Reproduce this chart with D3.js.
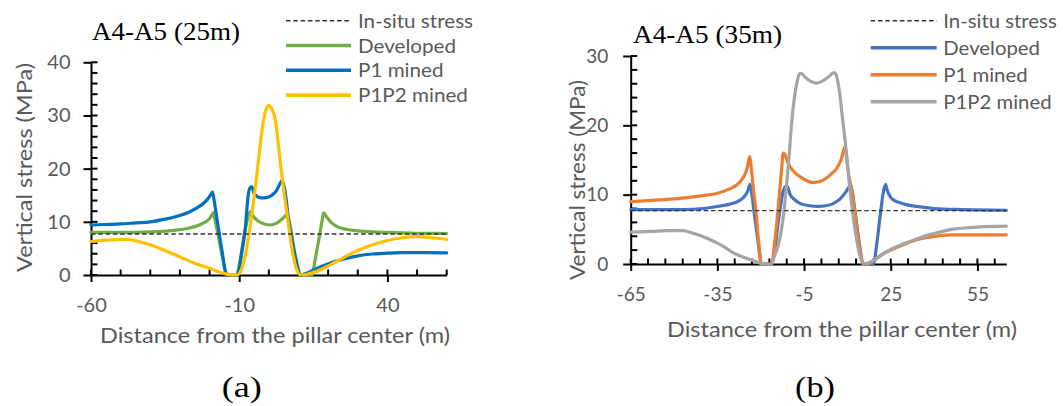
<!DOCTYPE html>
<html>
<head>
<meta charset="utf-8">
<script src="https://cdn.jsdelivr.net/npm/d3@7"></script>
<style>
  body { margin: 0; background: #fff; }
  svg { display: block; }
</style>
</head>
<body>
<svg id="fig" width="1063" height="406"></svg>
<script>
// ---------------- data ----------------
const legendNames = ["In-situ stress", "Developed", "P1 mined", "P1P2 mined"];
const inSituStress = 7.7;

// Panel (a): A4-A5, 25 m pillar
const titleA = "A4-A5 (25m)";
const xMajorA = [-60, -10, 40];
const yMajorA = [0, 10, 20, 30, 40];
const developedA = [
  [-60, 8.0], [-50, 8.0], [-40, 8.1], [-32, 8.4], [-28, 8.7], [-25, 9.1], [-22, 9.8], [-20, 10.6],
  [-19.2, 11.3], [-18.7, 11.8], [-18.2, 10.5], [-17, 7.2], [-15.6, 3.2], [-14.4, 0.4], [-14, 0],
  [-11, 0], [-10.4, 0.8], [-9.2, 4.5], [-7.8, 9.0], [-6.6, 11.6], [-6.2, 11.9], [-5.2, 11.0],
  [-3.5, 10.1], [-1.5, 9.6], [0.5, 9.4], [2.5, 9.7], [4.2, 10.4], [5.4, 11.0], [6.1, 11.4],
  [6.6, 10.8], [7.6, 8.0], [8.8, 4.0], [10, 1.0], [10.6, 0], [14.6, 0], [15.5, 2.5], [16.8, 6.5],
  [18, 10.3], [18.5, 11.7], [19.5, 10.9], [21, 9.9], [23, 9.1], [26, 8.6], [30, 8.3], [35, 8.1],
  [40, 8.0], [50, 7.85], [60, 7.8]
];
const p1MinedA = [
  [-60, 9.4], [-55, 9.5], [-50, 9.6], [-45, 9.8], [-40, 10.0], [-35, 10.5], [-30, 11.2], [-27, 11.8],
  [-24, 12.7], [-22, 13.5], [-20.5, 14.4], [-19.5, 15.2], [-19, 15.6], [-18.6, 14.5], [-18.1, 12.8],
  [-17.2, 9.5], [-16.4, 6.6], [-15.5, 3.5], [-14.7, 0.6], [-14.2, 0], [-10.8, 0], [-10.2, 0.5],
  [-9.2, 4.0], [-8, 8.5], [-6.9, 15.3], [-6.2, 16.5], [-5.7, 16.6], [-5.1, 15.5], [-4, 14.8],
  [-2.3, 14.5], [-0.5, 14.6], [1, 15.0], [2.5, 15.8], [3.6, 17.0], [4.4, 17.8], [5.2, 16.5],
  [6, 13.5], [6.6, 10.3], [7.8, 6.5], [8.9, 3.4], [9.8, 1.2], [10.6, 0], [13, 0.4], [16, 1.2],
  [19, 1.9], [22, 2.5], [26, 3.1], [30, 3.6], [35, 3.95], [40, 4.1], [45, 4.2], [50, 4.2], [60, 4.15]
];
const p1p2MinedA = [
  [-60, 6.3], [-55, 6.55], [-50, 6.7], [-47, 6.65], [-44, 6.3], [-40, 5.7], [-35, 4.6], [-30, 3.4],
  [-25, 2.2], [-20, 1.25], [-17, 0.6], [-14.5, 0.2], [-12.5, 0.03], [-10.5, 0.05], [-9.6, 0.6],
  [-8.6, 2.2], [-7.4, 5.3], [-5.7, 11.6], [-4, 19.1], [-2.8, 25.0], [-1.8, 29.1], [-0.9, 31.2],
  [0, 31.9], [0.9, 31.3], [2.2, 29.1], [3, 25.5], [3.9, 21.0], [5, 16.0], [6.1, 11.6], [7.2, 7.2],
  [8.3, 3.4], [9.4, 1.0], [10.6, 0.1], [12, 0.05], [14, 0.3], [17, 0.9], [20, 1.7], [22, 2.3],
  [26, 3.5], [30, 4.6], [35, 5.7], [40, 6.5], [45, 7.0], [50, 7.2], [55, 7.0], [60, 6.7]
];

// Panel (b): A4-A5, 35 m pillar
const titleB = "A4-A5 (35m)";
const xMajorB = [-65, -35, -5, 25, 55];
const yMajorB = [0, 10, 20, 30];
const developedB = [
  [-65, 7.85], [-55, 7.85], [-47, 7.85], [-40, 8.0], [-35, 8.3], [-31, 8.6], [-28, 9.0], [-26, 9.6],
  [-24.5, 10.5], [-23.7, 11.5], [-23.2, 10.5], [-22.3, 7.5], [-21, 3.5], [-19.7, 0], [-16.2, 0],
  [-15, 2.5], [-13.8, 6.5], [-12.2, 10.5], [-11, 11.3], [-9.8, 10.0], [-8, 9.2], [-6.4, 8.75],
  [-3, 8.4], [-0.6, 8.3], [2.5, 8.4], [5.2, 8.75], [7.5, 9.4], [9.5, 10.4], [10.9, 11.2],
  [11.6, 10.6], [12.5, 8.0], [13.8, 4.0], [15.5, 0], [19, 0], [20.2, 3.0], [21.5, 7.5], [22.5, 10.5],
  [23.2, 11.5], [23.8, 10.6], [25, 9.6], [26.5, 9.1], [28.2, 8.85], [31, 8.5], [34, 8.3], [40, 8.0],
  [50, 7.85], [65, 7.75]
];
const p1MinedB = [
  [-65, 9.0], [-55, 9.25], [-47, 9.5], [-40, 9.85], [-35, 10.2], [-31, 10.8], [-28, 11.5], [-26, 12.5],
  [-24.7, 13.8], [-23.8, 15.5], [-23.3, 14.0], [-22.5, 10.7], [-21.5, 7.0], [-20.8, 3.5], [-19.7, 0],
  [-16.2, 0], [-15.2, 3.0], [-13.9, 8.3], [-12.8, 13.5], [-12.2, 16.0], [-11.6, 15.8], [-10.8, 14.8],
  [-9.8, 14.0], [-8, 13.1], [-6.4, 12.6], [-4, 12.0], [-1.8, 11.75], [0.5, 11.9], [2.8, 12.4],
  [5, 13.2], [6.3, 13.8], [7.8, 15.0], [9.2, 16.9], [9.7, 15.5], [10.4, 13.0], [11.5, 10.7],
  [12.7, 7.0], [13.8, 3.5], [15.5, 0], [17, 0], [19, 0.5], [22.5, 1.5], [26, 2.2], [30, 2.9],
  [34, 3.5], [38, 3.85], [42, 4.1], [46, 4.2], [55, 4.2], [65, 4.2]
];
const p1p2MinedB = [
  [-65, 4.6], [-58, 4.7], [-52, 4.8], [-47, 4.8], [-44, 4.5], [-41, 4.1], [-38, 3.6], [-35, 3.0],
  [-32, 2.3], [-29.5, 1.6], [-26, 1.0], [-23.5, 0.6], [-21, 0.25], [-19.7, 0.05], [-16.5, 0],
  [-15.2, 1.2], [-13.3, 3.8], [-12, 7.5], [-11, 11.6], [-10.1, 16.0], [-9.3, 20.3], [-8.4, 23.8],
  [-7.5, 26.1], [-6.6, 27.4], [-6, 27.5], [-4.5, 26.9], [-2.5, 26.3], [-0.6, 26.1], [1.5, 26.4],
  [3.5, 27.0], [5.3, 27.6], [6, 27.4], [6.8, 26.0], [7.5, 24.1], [8.3, 21.0], [9.2, 17.9],
  [10.1, 14.0], [10.9, 10.7], [12, 6.8], [13.2, 3.5], [14.3, 1.2], [15.5, 0], [17, 0.1], [19, 0.5],
  [22.5, 1.5], [26, 2.3], [30, 3.0], [34, 3.6], [38, 4.2], [42, 4.6], [46, 5.0], [51, 5.2],
  [56, 5.35], [65, 5.45]
];

// ---------------- drawing ----------------
const svg = d3.select("#fig");
const TEXT = "#595959";
const SANS = "Lato, 'Open Sans', sans-serif";
const SERIF = "'Times New Roman', 'Liberation Serif', Tinos, serif";
const AXIS_W = 2;

function fit(sel, w) {
  sel.attr("textLength", w).attr("lengthAdjust", "spacingAndGlyphs");
}

function drawPanel(p) {
  const x = d3.scaleLinear().domain(p.xDomain).range([p.left, p.right]);
  const y = d3.scaleLinear().domain(p.yDomain).range([p.bottom, p.top]);
  const g = svg.append("g");

  // inward tick marks at every minor step (majors included)
  const minor = g.append("g").attr("stroke", "#000").attr("stroke-width", AXIS_W);
  minor.selectAll("line.mx").data(p.xMinor).join("line").attr("class", "mx")
    .attr("x1", d => x(d)).attr("x2", d => x(d))
    .attr("y1", p.bottom).attr("y2", p.bottom - 5.5);
  minor.selectAll("line.my").data(p.yMinor).join("line").attr("class", "my")
    .attr("x1", p.left).attr("x2", p.left + 6.5)
    .attr("y1", d => y(d)).attr("y2", d => y(d));

  // major ticks outward, with labels
  const xa = g.append("g")
    .attr("transform", `translate(0,${p.bottom})`)
    .call(d3.axisBottom(x).tickValues(p.xMajor).tickSizeInner(7).tickSizeOuter(0)
      .tickPadding(p.xPad).tickFormat(d => String(d)));
  const ya = g.append("g")
    .attr("transform", `translate(${p.left},0)`)
    .call(d3.axisLeft(y).tickValues(p.yMajor).tickSizeInner(7.5).tickSizeOuter(0)
      .tickPadding(p.yPad).tickFormat(d => String(d)));
  [xa, ya].forEach(a => {
    a.selectAll("text").attr("fill", TEXT).style("font-family", SANS).style("font-size", p.tickFont + "px");
    a.selectAll(".tick line").attr("stroke", "#000").attr("stroke-width", AXIS_W);
    a.select(".domain").attr("stroke", "#000").attr("stroke-width", AXIS_W);
  });

  // series
  const line = d3.line().x(d => x(d[0])).y(d => y(d[1])).curve(d3.curveMonotoneX);
  p.series.forEach((s, i) => {
    g.append("path").datum(s).attr("d", line)
      .attr("fill", "none").attr("stroke", p.colors[i]).attr("stroke-width", 3.2)
      .attr("stroke-linejoin", "round").attr("stroke-linecap", "round");
  });
  // in-situ stress reference
  g.append("path").datum(p.xDomain.map(v => [v, inSituStress]))
    .attr("d", d3.line().x(d => x(d[0])).y(d => y(d[1])))
    .attr("stroke", "#333").attr("stroke-width", 1.4).attr("stroke-dasharray", "4.5,2.8");

  // title
  g.append("text").attr("x", p.titleX).attr("y", p.titleY).text(p.title)
    .attr("fill", "#000").style("font-family", SERIF).style("font-size", "25.5px")
    .call(fit, p.titleW);

  // axis titles
  g.append("text").attr("x", p.xLabelX).attr("y", p.xLabelY).attr("text-anchor", "middle")
    .text("Distance from the pillar center (m)")
    .attr("fill", TEXT).style("font-family", SANS).style("font-size", "21px")
    .call(fit, 350);
  g.append("text").attr("transform", `translate(${p.yLabelX},${p.yLabelY}) rotate(-90)`)
    .attr("text-anchor", "middle").text("Vertical stress (MPa)")
    .attr("fill", TEXT).style("font-family", SANS).style("font-size", "21px")
    .call(fit, p.yLabelW);

  // legend
  const lg = g.append("g");
  const texts = [];
  legendNames.forEach((name, i) => {
    const yy = p.legY + i * p.legStep;
    const ln = lg.append("line").attr("x1", p.legX1).attr("x2", p.legX2).attr("y1", yy).attr("y2", yy);
    if (i === 0) {
      ln.attr("stroke", "#333").attr("stroke-width", 1.4).attr("stroke-dasharray", "4.5,2.8");
    } else {
      ln.attr("stroke", p.colors[i - 1]).attr("stroke-width", 3.6);
    }
    const t = lg.append("text").attr("x", p.legTextX).attr("y", yy).attr("dy", "0.36em")
      .text(name).attr("fill", TEXT).style("font-family", SANS).style("font-size", "19.5px");
    texts.push(t);
  });
  const k = p.legFirstW / texts[0].node().getComputedTextLength();
  texts.forEach(t => fit(t, k * t.node().getComputedTextLength()));

  // panel tag
  g.append("text").attr("x", p.tagX).attr("y", 396.5).attr("text-anchor", "middle")
    .text(p.tag).attr("fill", "#000").style("font-family", SERIF).style("font-size", "29px")
    .call(fit, 40);
}

drawPanel({
  title: titleA, tag: "(a)",
  xDomain: [-60, 60], yDomain: [0, 40],
  left: 91, right: 446.7, top: 62.3, bottom: 275,
  xMajor: xMajorA, yMajor: yMajorA,
  xMinor: d3.range(-60, 61, 10), yMinor: d3.range(0, 41, 2),
  xPad: 16, yPad: 13, tickFont: 20,
  series: [developedA, p1MinedA, p1p2MinedA],
  colors: ["#70AD47", "#0070C0", "#FFC000"],
  titleX: 92, titleY: 39.5, titleW: 148,
  xLabelX: 275, xLabelY: 342.7,
  yLabelX: 31.5, yLabelY: 167.5, yLabelW: 209,
  legX1: 286, legX2: 351, legTextX: 358, legY: 20.7, legStep: 24.8, legFirstW: 115,
  tagX: 241.7
});

drawPanel({
  title: titleB, tag: "(b)",
  xDomain: [-65, 65], yDomain: [0, 30],
  left: 630.7, right: 1006.3, top: 56, bottom: 264,
  xMajor: xMajorB, yMajor: yMajorB,
  xMinor: d3.range(-65, 66, 6), yMinor: d3.range(0, 31, 2),
  xPad: 17, yPad: 15, tickFont: 19,
  series: [developedB, p1MinedB, p1p2MinedB],
  colors: ["#4472C4", "#ED7D31", "#A5A5A5"],
  titleX: 633, titleY: 42.5, titleW: 149,
  xLabelX: 842, xLabelY: 337,
  yLabelX: 585, yLabelY: 180, yLabelW: 200,
  legX1: 870.7, legX2: 936.7, legTextX: 943.3, legY: 20.7, legStep: 27, legFirstW: 113.4,
  tagX: 815
});
</script>
</body>
</html>
